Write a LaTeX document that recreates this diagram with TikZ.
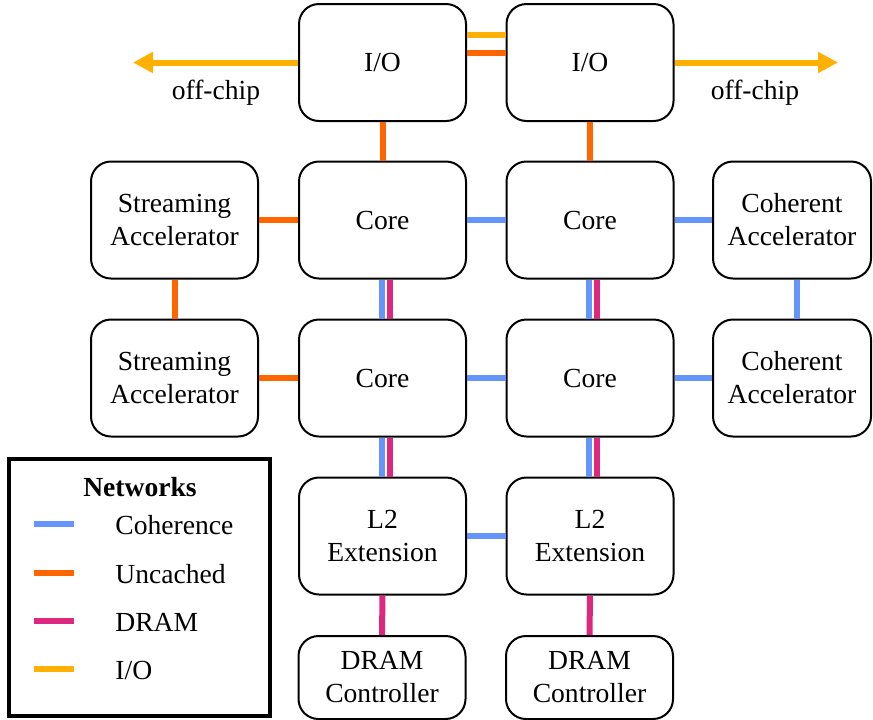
\documentclass[tikz,border=0pt]{standalone}
\usepackage{fontspec}
\setmainfont{Liberation Serif}[Ligatures=TeX]
\usepackage{tikz}
\usetikzlibrary{arrows.meta,positioning}
\definecolor{cohblue}{RGB}{100,149,250}
\definecolor{uncorange}{RGB}{255,102,0}
\definecolor{drampink}{RGB}{221,40,128}
\definecolor{ioyellow}{RGB}{255,176,0}
\tikzset{
  blk/.style={draw=black,line width=1pt,rounded corners=10pt,align=center,
    inner sep=0pt,minimum width=83.5pt,minimum height=58.5pt},
  coh/.style={draw=cohblue,line width=3pt},
  unc/.style={draw=uncorange,line width=3pt},
  drm/.style={draw=drampink,line width=3pt},
  iox/.style={draw=ioyellow,line width=3pt},
}

\begin{document}
\begin{tikzpicture}[x=0.5pt,y=-0.5pt,font=\rmfamily\fontsize{13.8}{16.5}\selectfont]
\useasboundingbox (0,0) rectangle (873,719);
% blocks
\node (io1) [blk] at (382.5,62.5) {I/O};
\node (io2) [blk] at (590,62.5) {I/O};
\node (sa1) [blk] at (174.5,220) {Streaming\\Accelerator};
\node (c1) [blk] at (382.5,220) {Core};
\node (c2) [blk] at (590,220) {Core};
\node (ca1) [blk,minimum width=79pt] at (792,220) {Coherent\\Accelerator};
\node (sa2) [blk] at (174.5,378) {Streaming\\Accelerator};
\node (c3) [blk] at (382.5,378) {Core};
\node (c4) [blk] at (590,378) {Core};
\node (ca2) [blk,minimum width=79pt] at (792,378) {Coherent\\Accelerator};
\node (l2a) [blk] at (382.5,536) {L2\\Extension};
\node (l2b) [blk] at (590,536) {L2\\Extension};
\node (dc1) [blk,minimum height=41.5pt] at (382,677.5) {DRAM\\Controller};
\node (dc2) [blk,minimum height=41.5pt] at (589.5,677.5) {DRAM\\Controller};
%
\coordinate (oc1) at (133,62.5);
\coordinate (oc2) at (838,62.5);
\draw[iox,-{Triangle[length=10pt,width=10pt]}] (io1.west) -- (oc1);
\draw[iox,-{Triangle[length=10pt,width=10pt]}] (io2.east) -- (oc2);
\node (off1) at (216,93) {off-chip};
\node (off2) at (755,93) {off-chip};
\draw[iox] ([yshift=13.75pt]io1.east) -- ([yshift=13.75pt]io2.west);
\draw[unc] ([yshift=4.75pt]io1.east) -- ([yshift=4.75pt]io2.west);
\draw[unc] (io1) -- (c1);
\draw[unc] (io2) -- (c2);
%
\draw[unc] (sa1) -- (c1);
\draw[coh] (c1) -- (c2);
\draw[coh] (c2) -- (ca1);
\draw[unc] (sa2) -- (c3);
\draw[coh] (c3) -- (c4);
\draw[coh] (c4) -- (ca2);
\draw[unc] (sa1) -- (sa2);
\draw[coh] ([xshift=2.5pt]ca1.south) -- ([xshift=2.5pt]ca2.north);
%
\draw[coh] ([xshift=-0.25pt]c1.south) -- ([xshift=-0.25pt]c3.north);
\draw[drm] ([xshift=3.75pt]c1.south) -- ([xshift=3.75pt]c3.north);
\draw[coh] ([xshift=-0.5pt]c2.south) -- ([xshift=-0.5pt]c4.north);
\draw[drm] ([xshift=3.5pt]c2.south) -- ([xshift=3.5pt]c4.north);
\draw[coh] ([xshift=-0.25pt]c3.south) -- ([xshift=-0.25pt]l2a.north);
\draw[drm] ([xshift=3.75pt]c3.south) -- ([xshift=3.75pt]l2a.north);
\draw[coh] ([xshift=-0.5pt]c4.south) -- ([xshift=-0.5pt]l2b.north);
\draw[drm] ([xshift=3.5pt]c4.south) -- ([xshift=3.5pt]l2b.north);
\draw[coh] (l2a) -- (l2b);
\draw[drm] (l2a.south) -- (dc1.north);
\draw[drm] (l2b.south) -- (dc2.north);
% legend
\node (leg) [draw=black,line width=2pt,minimum width=130.5pt,minimum height=128.5pt] at (139.5,587.5) {};
\node (legt) at (140,487) {\bfseries Networks};
\draw[coh] (34,524) -- (74,524);
\node (lcoh) [anchor=west,inner sep=0pt] at (115,525) {Coherence};
\draw[unc] (34,573) -- (74,573);
\node (lunc) [anchor=west,inner sep=0pt] at (115,574) {Uncached};
\draw[drm] (34,621) -- (74,621);
\node (ldrm) [anchor=west,inner sep=0pt] at (115,622) {DRAM};
\draw[iox] (34,669) -- (74,669);
\node (liox) [anchor=west,inner sep=0pt] at (115,670) {I/O};
\end{tikzpicture}
\end{document}
